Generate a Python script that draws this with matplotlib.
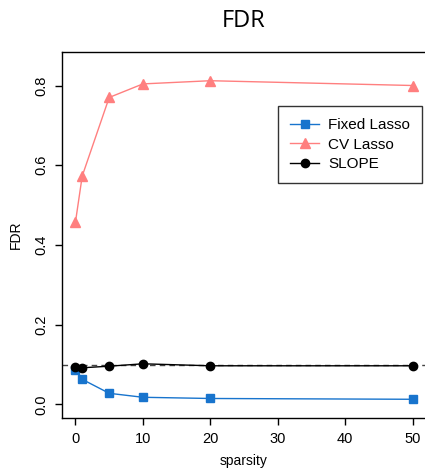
import matplotlib
matplotlib.use("Agg")
import matplotlib.pyplot as plt

sparsity = [0, 1, 5, 10, 20, 50]
fixed_lasso = [0.087, 0.063, 0.028, 0.018, 0.015, 0.013]
cv_lasso = [0.458, 0.573, 0.770, 0.804, 0.812, 0.800]
slope = [0.094, 0.092, 0.096, 0.102, 0.097, 0.097]
target_fdr = 0.1

plt.rcParams['font.family'] = ['Liberation Sans', 'DejaVu Sans']

fig = plt.figure(figsize=(4.25, 4.69), dpi=100)
ax = fig.add_axes([0.1459, 0.1087, 0.8565, 0.7804])

ax.plot(sparsity, fixed_lasso, color='#1874CD', lw=1, marker='s', ms=6, label='Fixed Lasso')
ax.plot(sparsity, cv_lasso, color='#FF7F7F', lw=1, marker='^', ms=7, label='CV Lasso')
ax.plot(sparsity, slope, color='black', lw=1, marker='o', ms=6, label='SLOPE')
ax.axhline(target_fdr, color='#444444', lw=1, ls=(0, (4, 3)), zorder=0)

ax.set_xlim(-2, 52)
ax.set_ylim(-0.034, 0.884)
ax.set_xticks([0, 10, 20, 30, 40, 50])
ax.set_yticks([0.0, 0.2, 0.4, 0.6, 0.8])
ax.set_yticklabels(['0.0', '0.2', '0.4', '0.6', '0.8'], rotation=90, va='center')
ax.tick_params(labelsize=10.5, length=5, width=1, pad=5)
for s in ax.spines.values():
    s.set_linewidth(1)

ax.set_xlabel('sparsity', fontsize=10, labelpad=6)
ax.set_ylabel('FDR', fontsize=10, labelpad=8)
fig.text(0.573, 0.955, 'FDR', ha='center', va='center', fontsize=17, family='Open Sans')

leg = ax.legend(loc='upper left', bbox_to_anchor=(0.593, 0.852), borderaxespad=0,
                fontsize=11, frameon=True, fancybox=False, edgecolor='black',
                borderpad=0.8, handlelength=1.9, labelspacing=0.35, handletextpad=0.6)
leg.get_frame().set_linewidth(1)

fig.savefig('out.png', dpi=100)
